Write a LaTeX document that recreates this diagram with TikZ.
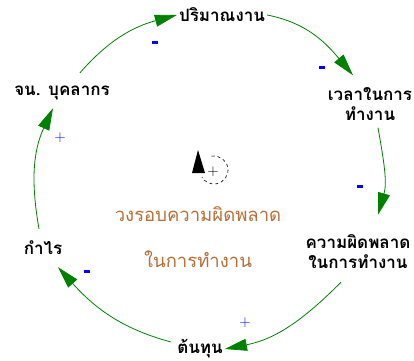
\documentclass[tikz,border=0pt]{standalone}
\usepackage{fontspec}
\newfontfamily\thaifont[Script=Thai]{Loma}
\usetikzlibrary{arrows.meta,calc}
\definecolor{LinkGreen}{RGB}{0,128,0}
\definecolor{SignBlue}{RGB}{0,0,255}
\definecolor{LoopBrown}{RGB}{185,110,55}
\tikzset{
  var/.style={font=\thaifont\bfseries\fontsize{17}{20}\selectfont,align=center,inner sep=2pt},
  link/.style={draw=LinkGreen,line width=0.8pt,-{Triangle[length=22pt,width=12pt]}},
  sign/.style={text=SignBlue,font=\sffamily\fontsize{15}{15}\selectfont,inner sep=0pt},
  looptext/.style={text=LoopBrown,font=\thaifont\fontsize{18.5}{22}\selectfont,inner sep=0pt},
}
\newcommand{\minus}{\rule[3pt]{6.5pt}{2.2pt}}
\begin{document}
\begin{tikzpicture}[x=1pt,y=1pt]
\useasboundingbox (0,0) rectangle (414,360);
% variables of the loop
\node[var] (vol) at (222,345) {ปริมาณงาน};
\node[var] (time) at (370,256) {เวลาในการ\\ทำงาน};
\node[var] (err) at (358,108) {ความผิดพลาด\\ในการทำงาน};
\node[var] (cost) at (200,11) {ต้นทุน};
\node[var] (profit) at (43,112) {กำไร};
\node[var] (staff) at (62,267) {จน. บุคลากร};
% causal links
\draw[link] ($(staff.north)+(18,11)$) to[out=49,in=195] (vol.west);
\draw[link] (vol.east) to[out=-11,in=130] ($(time.north)+(-17,10)$);
\draw[link] ($(time.south)+(8,-5)$) to[out=-80,in=74] ($(err.north)+(20,18)$);
\draw[link] ($(err.south)+(-17,-11)$) to[out=-135,in=11] (cost.east);
\draw[link] ($(cost.west)+(-4,7)$) to[out=165,in=-48] ($(profit.south)+(15,-10)$);
\draw[link] ($(profit.north)+(-4,10)$) to[out=100,in=-115] ($(staff.south)+(-9,-6)$);
\node[sign] (s1) at (155,316) {\minus};
\node[sign] (s2) at (322,291) {\minus};
\node[sign] (s3) at (360,172) {\minus};
\node[sign] (s4) at (245,37) {+};
\node[sign] (s5) at (87,87) {\minus};
\node[sign] (s6) at (60,222) {+};
% loop marker
\draw[dashed,line width=0.6pt] (214,190) ++(100:14) arc[start angle=100,end angle=-150,radius=14];
\fill (198,210) -- (205,187) -- (192,187) -- cycle;
\node[inner sep=0pt,font=\sffamily\fontsize{15}{15}\selectfont] (mark) at (213,188) {+};
\node[looptext] (loopa) at (198,146) {วงรอบความผิดพลาด};
\node[looptext] (loopb) at (198,101) {ในการทำงาน};
\end{tikzpicture}
\end{document}
